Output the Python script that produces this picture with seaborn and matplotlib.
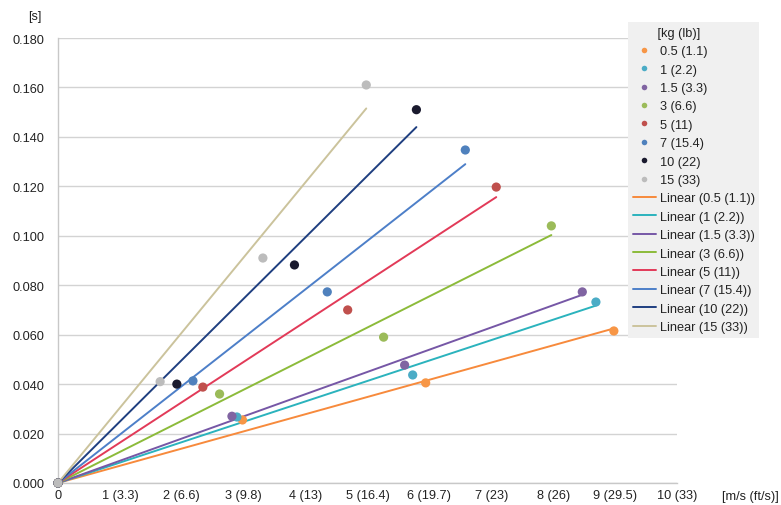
import numpy as np
import pandas as pd
import matplotlib
matplotlib.use("Agg")
import matplotlib.pyplot as plt
from matplotlib.lines import Line2D
import seaborn as sns

# Impact duration [s] versus speed [m/s] for several masses
masses = ["0.5 (1.1)", "1 (2.2)", "1.5 (3.3)", "3 (6.6)",
          "5 (11)", "7 (15.4)", "10 (22)", "15 (33)"]

speed_05 = [0, 2.98, 5.94, 8.98]
time_05 = [0, 0.0255, 0.0405, 0.0615]
speed_1 = [0, 2.89, 5.73, 8.69]
time_1 = [0, 0.0267, 0.0437, 0.0732]
speed_15 = [0, 2.81, 5.60, 8.47]
time_15 = [0, 0.0270, 0.0477, 0.0773]
speed_3 = [0, 2.61, 5.26, 7.97]
time_3 = [0, 0.0360, 0.0590, 0.1040]
speed_5 = [0, 2.34, 4.68, 7.08]
time_5 = [0, 0.0388, 0.0700, 0.1197]
speed_7 = [0, 2.18, 4.35, 6.58]
time_7 = [0, 0.0413, 0.0773, 0.1347]
speed_10 = [0, 1.92, 3.82, 5.79]
time_10 = [0, 0.0400, 0.0882, 0.1510]
speed_15kg = [0, 1.65, 3.31, 4.98]
time_15kg = [0, 0.0410, 0.0910, 0.1610]

speeds = [speed_05, speed_1, speed_15, speed_3, speed_5, speed_7, speed_10, speed_15kg]
times = [time_05, time_1, time_15, time_3, time_5, time_7, time_10, time_15kg]

x_ticks = list(range(11))
x_tick_labels = ["0", "1 (3.3)", "2 (6.6)", "3 (9.8)", "4 (13)", "5 (16.4)",
                 "6 (19.7)", "7 (23)", "8 (26)", "9 (29.5)", "10 (33)"]
y_ticks = [0.0, 0.02, 0.04, 0.06, 0.08, 0.10, 0.12, 0.14, 0.16, 0.18]

marker_colors = ["#f79646", "#4bacc6", "#8064a2", "#9bbb59",
                 "#c0504d", "#4f81bd", "#1a1a2e", "#bcbcbc"]
line_colors = ["#f78a3c", "#2bb3bd", "#7657a6", "#8cbb3a",
               "#e23a58", "#4d7fc8", "#1f3f80", "#cbc39c"]

rows = []
for m, xs, ys in zip(masses, speeds, times):
    for x, y in zip(xs, ys):
        rows.append({"mass": m, "speed": x, "time": y})
df = pd.DataFrame(rows)

sns.set_theme(style="white")
plt.rcParams["font.family"] = ["Liberation Sans", "DejaVu Sans"]
FS = 9.2

fig = plt.figure(figsize=(7.81, 5.06), dpi=100)
ax = fig.add_axes([58 / 781, 22 / 506, (677 - 58) / 781, (484 - 39) / 506])

# Linear trendlines forced through the origin
for m, xs, ys, c in zip(masses, speeds, times, line_colors):
    xs = np.asarray(xs)
    ys = np.asarray(ys)
    slope = np.sum(xs * ys) / np.sum(xs * xs)
    xfit = np.array([0.0, xs.max()])
    sns.lineplot(x=xfit, y=slope * xfit, ax=ax, color=c, lw=1.4,
                 legend=False, zorder=3)

sns.scatterplot(data=df, x="speed", y="time", hue="mass", hue_order=masses,
                palette=marker_colors, s=44, edgecolor="none", ax=ax,
                legend=False, zorder=4, clip_on=False)

ax.set_xlim(0, 10)
ax.set_ylim(0, 0.18)
ax.set_xticks(x_ticks)
ax.set_xticklabels(x_tick_labels)
ax.set_yticks(y_ticks)
ax.set_yticklabels([f"{v:.3f}" for v in y_ticks])
ax.set_xlabel("")
ax.set_ylabel("")
ax.tick_params(axis="both", length=0, labelsize=FS, colors="#222222")
ax.tick_params(axis="x", pad=4)
ax.tick_params(axis="y", pad=10)
ax.yaxis.grid(True, color="#d3d3d3", lw=1.0)
ax.xaxis.grid(False)
for side in ["top", "right"]:
    ax.spines[side].set_visible(False)
for side in ["left", "bottom"]:
    ax.spines[side].set_color("#c8c8c8")
    ax.spines[side].set_linewidth(1.0)

fig.text(35 / 781, 1 - 17 / 506, "[s]", fontsize=FS, color="#222222",
         ha="center", va="center")
fig.text(722 / 781, 1 - 497 / 506, "[m/s (ft/s)]", fontsize=FS,
         color="#222222", ha="left", va="center")

handles = []
labels = []
for m, c in zip(masses, marker_colors):
    handles.append(Line2D([], [], marker="o", ls="none", color=c,
                          markersize=4, markeredgewidth=0))
    labels.append(m)
for m, c in zip(masses, line_colors):
    handles.append(Line2D([], [], color=c, lw=1.4))
    labels.append(f"Linear ({m})")

leg = fig.legend(handles, labels, title="[kg (lb)]", loc="upper left",
                 bbox_to_anchor=(622 / 781, 1 - 17 / 506),
                 fontsize=FS, title_fontsize=FS, frameon=True,
                 facecolor="#f0f0f0", edgecolor="none", framealpha=1,
                 fancybox=False, labelspacing=0.5, handlelength=1.8,
                 handletextpad=0.3, borderpad=0.35, alignment="left")
leg.set_zorder(10)
for t in leg.get_texts():
    t.set_color("#222222")
title = leg.get_title()
title.set_color("#222222")
title.set_text("       [kg (lb)]")

fig.savefig("out.png", dpi=100)
